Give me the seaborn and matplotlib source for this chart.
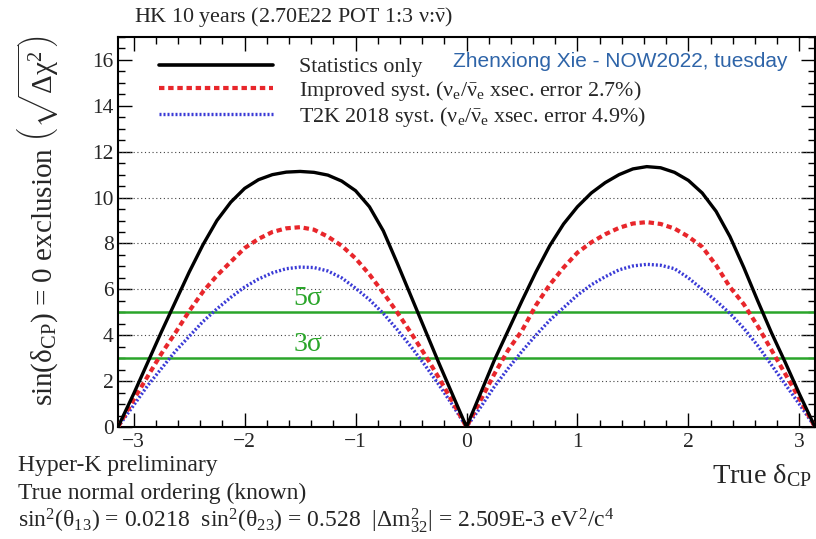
import numpy as np
import pandas as pd
import matplotlib
matplotlib.use("Agg")
import matplotlib.pyplot as plt
import seaborn as sns
from matplotlib.lines import Line2D
from matplotlib.ticker import MultipleLocator

# ---------------- data ----------------
delta_cp = [-3.1416, -3.0, -2.875, -2.75, -2.625, -2.5, -2.375, -2.25, -2.125, -2.0,
            -1.875, -1.75, -1.625, -1.5, -1.375, -1.25, -1.125, -1.0, -0.875, -0.75,
            -0.625, -0.5, -0.375, -0.25, -0.125, 0.0,
            0.125, 0.25, 0.375, 0.5, 0.625, 0.75, 0.875, 1.0, 1.125, 1.25,
            1.375, 1.5, 1.625, 1.75, 1.875, 2.0, 2.125, 2.25, 2.375, 2.5,
            2.625, 2.75, 2.875, 3.0, 3.1416]
stat_only = [0.0, 1.45, 2.8, 4.15, 5.45, 6.75, 7.95, 9.0, 9.8, 10.4,
             10.78, 11.0, 11.11, 11.14, 11.1, 10.98, 10.72, 10.3, 9.6, 8.55,
             7.15, 5.7, 4.25, 2.8, 1.4, 0.0,
             1.45, 2.9, 4.2, 5.5, 6.75, 7.9, 8.85, 9.6, 10.2, 10.65,
             11.0, 11.25, 11.35, 11.3, 11.1, 10.75, 10.2, 9.4, 8.3, 6.95,
             5.5, 4.1, 2.8, 1.45, 0.0]
improved_syst = [0.0, 1.2, 2.2, 3.2, 4.1, 5.05, 5.9, 6.6, 7.2, 7.8,
                 8.2, 8.5, 8.66, 8.71, 8.6, 8.3, 7.9, 7.35, 6.65, 5.85,
                 5.0, 4.1, 3.15, 2.15, 1.1, 0.0,
                 1.15, 2.3, 3.35, 4.2, 5.3, 6.2, 6.95, 7.6, 8.05, 8.4,
                 8.68, 8.87, 8.93, 8.85, 8.65, 8.3, 7.85, 7.05, 6.1, 5.35,
                 4.4, 3.35, 2.3, 1.25, 0.0]
t2k_syst = [0.0, 0.95, 1.8, 2.55, 3.3, 3.95, 4.6, 5.15, 5.65, 6.1,
            6.45, 6.72, 6.9, 6.97, 6.95, 6.8, 6.5, 6.05, 5.55, 4.95,
            4.25, 3.5, 2.7, 1.85, 0.95, 0.0,
            0.85, 1.75, 2.55, 3.3, 4.0, 4.65, 5.2, 5.75, 6.2, 6.55,
            6.85, 7.02, 7.09, 7.05, 6.9, 6.5, 6.0, 5.5, 4.95, 4.3,
            3.55, 2.7, 1.85, 1.0, 0.0]
sigma_levels = [5, 3]
sigma_labels = [r"5$\sigma$", r"3$\sigma$"]
grid_levels = [2, 4, 6, 8, 10, 12]
series_labels = ["Statistics only",
                 r"Improved syst. ($\nu_e/\bar{\nu}_e$ xsec. error 2.7%)",
                 r"T2K 2018 syst. ($\nu_e/\bar{\nu}_e$ xsec. error 4.9%)"]

# ---------------- style ----------------
sns.set_theme(style="white")
plt.rcParams["font.family"] = ["Liberation Serif", "DejaVu Serif"]
plt.rcParams["mathtext.fontset"] = "custom"
plt.rcParams["mathtext.rm"] = "Liberation Serif"
plt.rcParams["mathtext.it"] = "Liberation Serif:italic"
plt.rcParams["mathtext.bf"] = "Liberation Serif:bold"
plt.rcParams["mathtext.default"] = "regular"

fig = plt.figure(figsize=(8.16, 5.39), dpi=100)
ax = fig.add_axes([118 / 816, 1 - 427 / 539, (815 - 118) / 816, (427 - 37) / 539])

df = pd.DataFrame({"delta": delta_cp, "stat": stat_only, "imp": improved_syst, "t2k": t2k_syst})

BLACK = "#000000"
RED = "#e8262b"
BLUE = "#3a3ad6"
GREEN = "#2aa52a"
RED_LS = (0, (1.3, 0.9))
BLUE_LS = (0, (0.6, 0.6))

# grid lines (dotted)
for g in grid_levels:
    ax.axhline(g, color="#444444", lw=0.8, ls=(0, (1, 2.4)), zorder=1)
# sigma lines
for s in sigma_levels:
    ax.axhline(s, color=GREEN, lw=1.8, zorder=2)

sns.lineplot(data=df, x="delta", y="t2k", ax=ax, color=BLUE, lw=2.4,
             linestyle=BLUE_LS, zorder=3)
sns.lineplot(data=df, x="delta", y="imp", ax=ax, color=RED, lw=3.0,
             linestyle=RED_LS, zorder=4)
sns.lineplot(data=df, x="delta", y="stat", ax=ax, color=BLACK, lw=2.4, zorder=5)

for s, lab in zip(sigma_levels, sigma_labels):
    ax.text(-1.43, s + 0.05, lab, color=GREEN, fontsize=20, ha="center", va="bottom", zorder=6)

ax.set_xlim(-np.pi, np.pi)
ax.set_ylim(0, 17)
ax.xaxis.set_major_locator(MultipleLocator(1))
ax.xaxis.set_minor_locator(MultipleLocator(0.2))
ax.yaxis.set_major_locator(MultipleLocator(2))
ax.yaxis.set_minor_locator(MultipleLocator(0.5))
ax.tick_params(which="both", direction="in", top=True, right=True, bottom=True, left=True,
               width=1.0, color="black")
ax.tick_params(which="major", length=10, labelsize=15.5)
ax.tick_params(axis="y", which="major", pad=3)
ax.tick_params(axis="x", which="major", pad=4)
ax.tick_params(which="minor", length=5)
ax.set_xlabel("")
ax.set_ylabel("")
for sp in ax.spines.values():
    sp.set_linewidth(1.5)
    sp.set_color("black")

# legend
handles = [Line2D([], [], color=BLACK, lw=2.6),
           Line2D([], [], color=RED, lw=3.0, linestyle=RED_LS),
           Line2D([], [], color=BLUE, lw=2.4, linestyle=BLUE_LS)]
leg = ax.legend(handles, series_labels, loc="upper left", bbox_to_anchor=(0.052, 0.96),
                fontsize=15.8, handlelength=5.2, handletextpad=1.2, labelspacing=0.08,
                frameon=True, framealpha=1.0, edgecolor="white", facecolor="white",
                borderpad=0.2, borderaxespad=0)
leg.set_zorder(10)

ax.text(0.961, 0.938, "Zhenxiong Xie - NOW2022, tuesday", transform=ax.transAxes,
        ha="right", va="center", fontsize=15, color="#2e64a8", family="Liberation Sans",
        zorder=11)

# titles and labels
fig.text(134 / 816, 1 - 17 / 539, r"HK 10 years (2.70E22 POT 1:3 $\nu$:$\bar{\nu}$)",
         fontsize=15.8, ha="left", va="center")
fig.text(38 / 816, 1 - 221 / 539,
         r"sin($\delta_{CP}$) = 0 exclusion $\left(\sqrt{\Delta\chi^2}\right)$",
         rotation=90, fontsize=21, ha="center", va="center")
fig.text(812 / 816, 1 - 476 / 539, r"True $\delta_{CP}$", fontsize=20.5, ha="right", va="center")

fig.text(18 / 816, 1 - 466 / 539, "Hyper-K preliminary", fontsize=17, ha="left", va="center")
fig.text(18 / 816, 1 - 493 / 539, "True normal ordering (known)", fontsize=17, ha="left", va="center")
fig.text(18 / 816, 1 - 521 / 539,
         r"sin$^2$($\theta_{13}$) = 0.0218  sin$^2$($\theta_{23}$) = 0.528  |$\Delta$m$^2_{32}$| = 2.509E-3 eV$^2$/c$^4$",
         fontsize=17, ha="left", va="center")

fig.savefig("out.png", dpi=100, facecolor="white")
